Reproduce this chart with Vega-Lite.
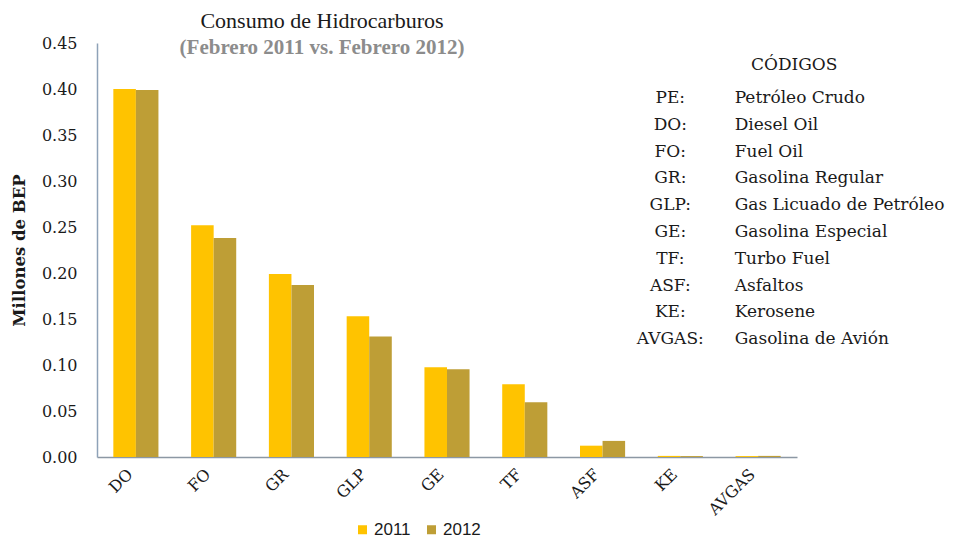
{
  "$schema": "https://vega.github.io/schema/vega-lite/v6.json",
  "autosize": {"type": "none"},
  "width": 700,
  "height": 414,
  "padding": {"left": 97, "top": 43, "right": 156, "bottom": 84},
  "background": "white",
  "title": {
    "text": "Consumo de Hidrocarburos",
    "subtitle": "(Febrero 2011 vs. Febrero 2012)",
    "anchor": "start",
    "align": "center",
    "dx": 225,
    "offset": -24,
    "frame": "group",
    "font": "Liberation Serif",
    "fontSize": 22,
    "fontWeight": "normal",
    "color": "#1a1a1a",
    "subtitleFont": "Liberation Serif",
    "subtitleFontSize": 21,
    "subtitleFontWeight": "bold",
    "subtitleColor": "#8c8c8c",
    "subtitlePadding": 4
  },
  "datasets": {
    "bars": [
      {"codigo": "DO", "anio": "2011", "valor": 0.400},
      {"codigo": "DO", "anio": "2012", "valor": 0.399},
      {"codigo": "FO", "anio": "2011", "valor": 0.252},
      {"codigo": "FO", "anio": "2012", "valor": 0.238},
      {"codigo": "GR", "anio": "2011", "valor": 0.199},
      {"codigo": "GR", "anio": "2012", "valor": 0.187},
      {"codigo": "GLP", "anio": "2011", "valor": 0.153},
      {"codigo": "GLP", "anio": "2012", "valor": 0.131},
      {"codigo": "GE", "anio": "2011", "valor": 0.0975},
      {"codigo": "GE", "anio": "2012", "valor": 0.0955},
      {"codigo": "TF", "anio": "2011", "valor": 0.079},
      {"codigo": "TF", "anio": "2012", "valor": 0.0595},
      {"codigo": "ASF", "anio": "2011", "valor": 0.0123},
      {"codigo": "ASF", "anio": "2012", "valor": 0.0175},
      {"codigo": "KE", "anio": "2011", "valor": 0.0012},
      {"codigo": "KE", "anio": "2012", "valor": 0.0010},
      {"codigo": "AVGAS", "anio": "2011", "valor": 0.0010},
      {"codigo": "AVGAS", "anio": "2012", "valor": 0.0012}
    ],
    "codigos": [
      {"fila": 1, "codigo": "PE:", "nombre": "Petróleo Crudo"},
      {"fila": 2, "codigo": "DO:", "nombre": "Diesel Oil"},
      {"fila": 3, "codigo": "FO:", "nombre": "Fuel Oil"},
      {"fila": 4, "codigo": "GR:", "nombre": "Gasolina Regular"},
      {"fila": 5, "codigo": "GLP:", "nombre": "Gas Licuado de Petróleo"},
      {"fila": 6, "codigo": "GE:", "nombre": "Gasolina Especial"},
      {"fila": 7, "codigo": "TF:", "nombre": "Turbo Fuel"},
      {"fila": 8, "codigo": "ASF:", "nombre": "Asfaltos"},
      {"fila": 9, "codigo": "KE:", "nombre": "Kerosene"},
      {"fila": 10, "codigo": "AVGAS:", "nombre": "Gasolina de Avión"}
    ],
    "encabezado": [{"texto": "CÓDIGOS"}]
  },
  "layer": [
    {
      "data": {"name": "bars"},
      "mark": {"type": "bar"},
      "encoding": {
        "x": {
          "field": "codigo",
          "type": "nominal",
          "sort": ["DO", "FO", "GR", "GLP", "GE", "TF", "ASF", "KE", "AVGAS"],
          "scale": {"paddingInner": 0.42, "paddingOuter": 0.21},
          "axis": {
            "title": null,
            "labelAngle": -45,
            "labelAlign": "right",
            "labelBaseline": "bottom",
            "labelFont": "DejaVu Serif",
            "labelFontSize": 16,
            "labelColor": "#1a1a1a",
            "labelPadding": 20,
            "ticks": false,
            "tickSize": 0,
            "domainColor": "#8c98a4",
            "domainWidth": 1.5,
            "grid": false
          }
        },
        "xOffset": {"field": "anio", "type": "nominal"},
        "y": {
          "field": "valor",
          "type": "quantitative",
          "scale": {"domain": [0, 0.45], "nice": false},
          "axis": {
            "title": "Millones de BEP",
            "titleFont": "DejaVu Serif",
            "titleFontSize": 16.5,
            "titleFontWeight": "bold",
            "titleColor": "#1a1a1a",
            "titlePadding": 14,
            "values": [0, 0.05, 0.1, 0.15, 0.2, 0.25, 0.3, 0.35, 0.4, 0.45],
            "format": ".2f",
            "labelFont": "DejaVu Serif",
            "labelFontSize": 16,
            "labelColor": "#1a1a1a",
            "labelPadding": 20,
            "ticks": false,
            "tickSize": 0,
            "grid": false,
            "domainColor": "#8ea2b8",
            "domainWidth": 1.5
          }
        },
        "color": {
          "field": "anio",
          "type": "nominal",
          "scale": {"domain": ["2011", "2012"], "range": ["#FFC300", "#BE9E36"]},
          "legend": {
            "title": null,
            "orient": "none",
            "direction": "horizontal",
            "legendX": 257,
            "legendY": 478,
            "symbolType": "square",
            "symbolSize": 81,
            "symbolStrokeWidth": 0,
            "labelFont": "Liberation Sans",
            "labelFontSize": 17,
            "labelColor": "#1a1a1a",
            "labelOffset": 3,
            "columnPadding": 12,
            "padding": 0
          }
        }
      }
    },
    {
      "data": {"name": "codigos"},
      "mark": {"type": "text", "align": "center", "baseline": "middle", "font": "DejaVu Serif", "fontSize": 17, "color": "#1a1a1a"},
      "encoding": {
        "x": {"datum": 81.9, "type": "quantitative", "scale": {"domain": [0, 100]}, "axis": null},
        "y": {"field": "fila", "type": "quantitative", "scale": {"domain": [-1.052, 14.396], "reverse": true, "nice": false, "zero": false}, "axis": null},
        "text": {"field": "codigo"}
      }
    },
    {
      "data": {"name": "codigos"},
      "mark": {"type": "text", "align": "left", "baseline": "middle", "font": "DejaVu Serif", "fontSize": 17, "color": "#1a1a1a"},
      "encoding": {
        "x": {"datum": 91.1, "type": "quantitative", "scale": {"domain": [0, 100]}, "axis": null},
        "y": {"field": "fila", "type": "quantitative", "scale": {"domain": [-1.052, 14.396], "reverse": true, "nice": false, "zero": false}, "axis": null},
        "text": {"field": "nombre"}
      }
    },
    {
      "data": {"name": "encabezado"},
      "mark": {"type": "text", "align": "center", "baseline": "middle", "font": "DejaVu Serif", "fontSize": 17, "color": "#1a1a1a"},
      "encoding": {
        "x": {"datum": 99.6, "type": "quantitative", "scale": {"domain": [0, 100]}, "axis": null},
        "y": {"datum": -0.23, "type": "quantitative", "scale": {"domain": [-1.052, 14.396], "reverse": true, "nice": false, "zero": false}, "axis": null},
        "text": {"field": "texto"}
      }
    }
  ],
  "resolve": {"scale": {"x": "independent", "y": "independent"}},
  "config": {"view": {"stroke": null}, "axis": {"labelOverlap": false}}
}
